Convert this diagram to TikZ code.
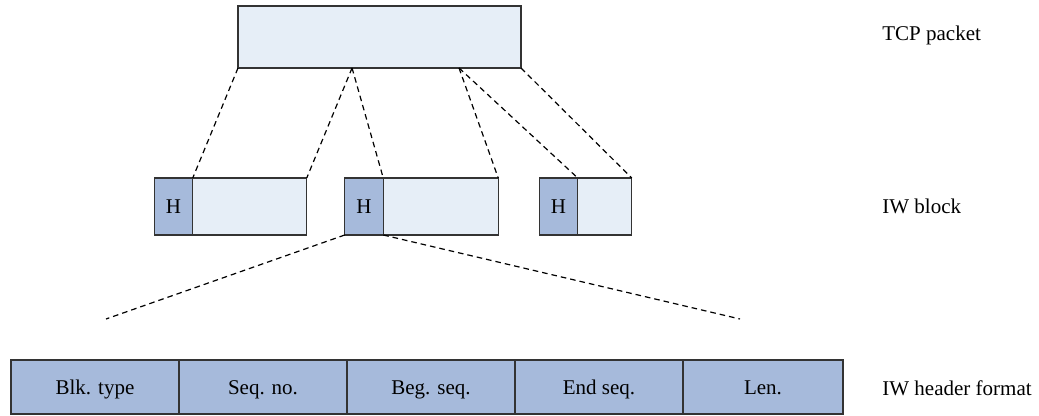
\documentclass[tikz,border=0pt]{standalone}
\usepackage{fontspec}
\setmainfont{Liberation Serif}
\usetikzlibrary{calc, positioning}

\definecolor{pktfill}{HTML}{E6EEF7}
\definecolor{hdrfill}{HTML}{A6BADB}
\definecolor{edge}{HTML}{333333}

\begin{document}
\begin{tikzpicture}[x=0.5pt, y=-0.5pt, font=\fontsize{10.5}{12.5}\selectfont,
    box/.style={draw=edge, line width=0.6pt, fill=pktfill, inner sep=0pt, outer sep=0pt,
      text height=7.2pt, text depth=0pt},
    hbox/.style={box, fill=hdrfill, minimum width=19.25pt, minimum height=28.5pt},
    body/.style={box, minimum height=28.5pt},
    field/.style={box, fill=hdrfill, minimum height=27pt},
    split/.style={line width=0.6pt, dash pattern=on 2.8pt off 2pt},
    tag/.style={anchor=base west, inner sep=0pt}]

  \useasboundingbox (0,0) rectangle (1039,416);

  % TCP packet
  \node[box, minimum width=141.5pt, minimum height=31pt] (tcp) at (379.5,37) {};

  % IW blocks
  \node[hbox] (h1) at (173.5,206.5) {H};
  \node[body, minimum width=57pt, right=0pt of h1] (b1) {};
  \node[hbox] (h2) at (364,206.5) {H};
  \node[body, minimum width=57.5pt, right=0pt of h2] (b2) {};
  \node[hbox] (h3) at (558.5,206.5) {H};
  \node[body, minimum width=27pt, right=0pt of h3] (b3) {};

  % Header fields
  \node[field, minimum width=84pt] (f1) at (95,387) {Blk. type};
  \node[field, minimum width=84pt, right=0pt of f1] (f2) {Seq. no.};
  \node[field, minimum width=84pt, right=0pt of f2] (f3) {Beg. seq.};
  \node[field, minimum width=84pt, right=0pt of f3] (f4) {End seq.};
  \node[field, minimum width=80pt, right=0pt of f4] (f5) {Len.};

  % Packet split into blocks
  \coordinate (s1) at ($(tcp.south west)!0.403!(tcp.south east)$);
  \coordinate (s2) at ($(tcp.south west)!0.781!(tcp.south east)$);
  \draw[split] (tcp.south west) -- (h1.north east);
  \draw[split] (s1) -- (b1.north east);
  \draw[split] (s1) -- (h2.north east);
  \draw[split] (s2) -- (b2.north east);
  \draw[split] (s2) -- (h3.north east);
  \draw[split] (tcp.south east) -- (b3.north east);

  % Header zoom
  \coordinate (zl) at (106,319);
  \coordinate (zr) at (740,319);
  \draw[split] (h2.south west) -- (zl);
  \draw[split] (h2.south east) -- (zr);

  % Labels
  \node[tag] (ltcp) at (882,40.7) {TCP packet};
  \node[tag] (lblk) at (882,214) {IW block};
  \node[tag] (lhdr) at (882,395.5) {IW header format};

\end{tikzpicture}
\end{document}
